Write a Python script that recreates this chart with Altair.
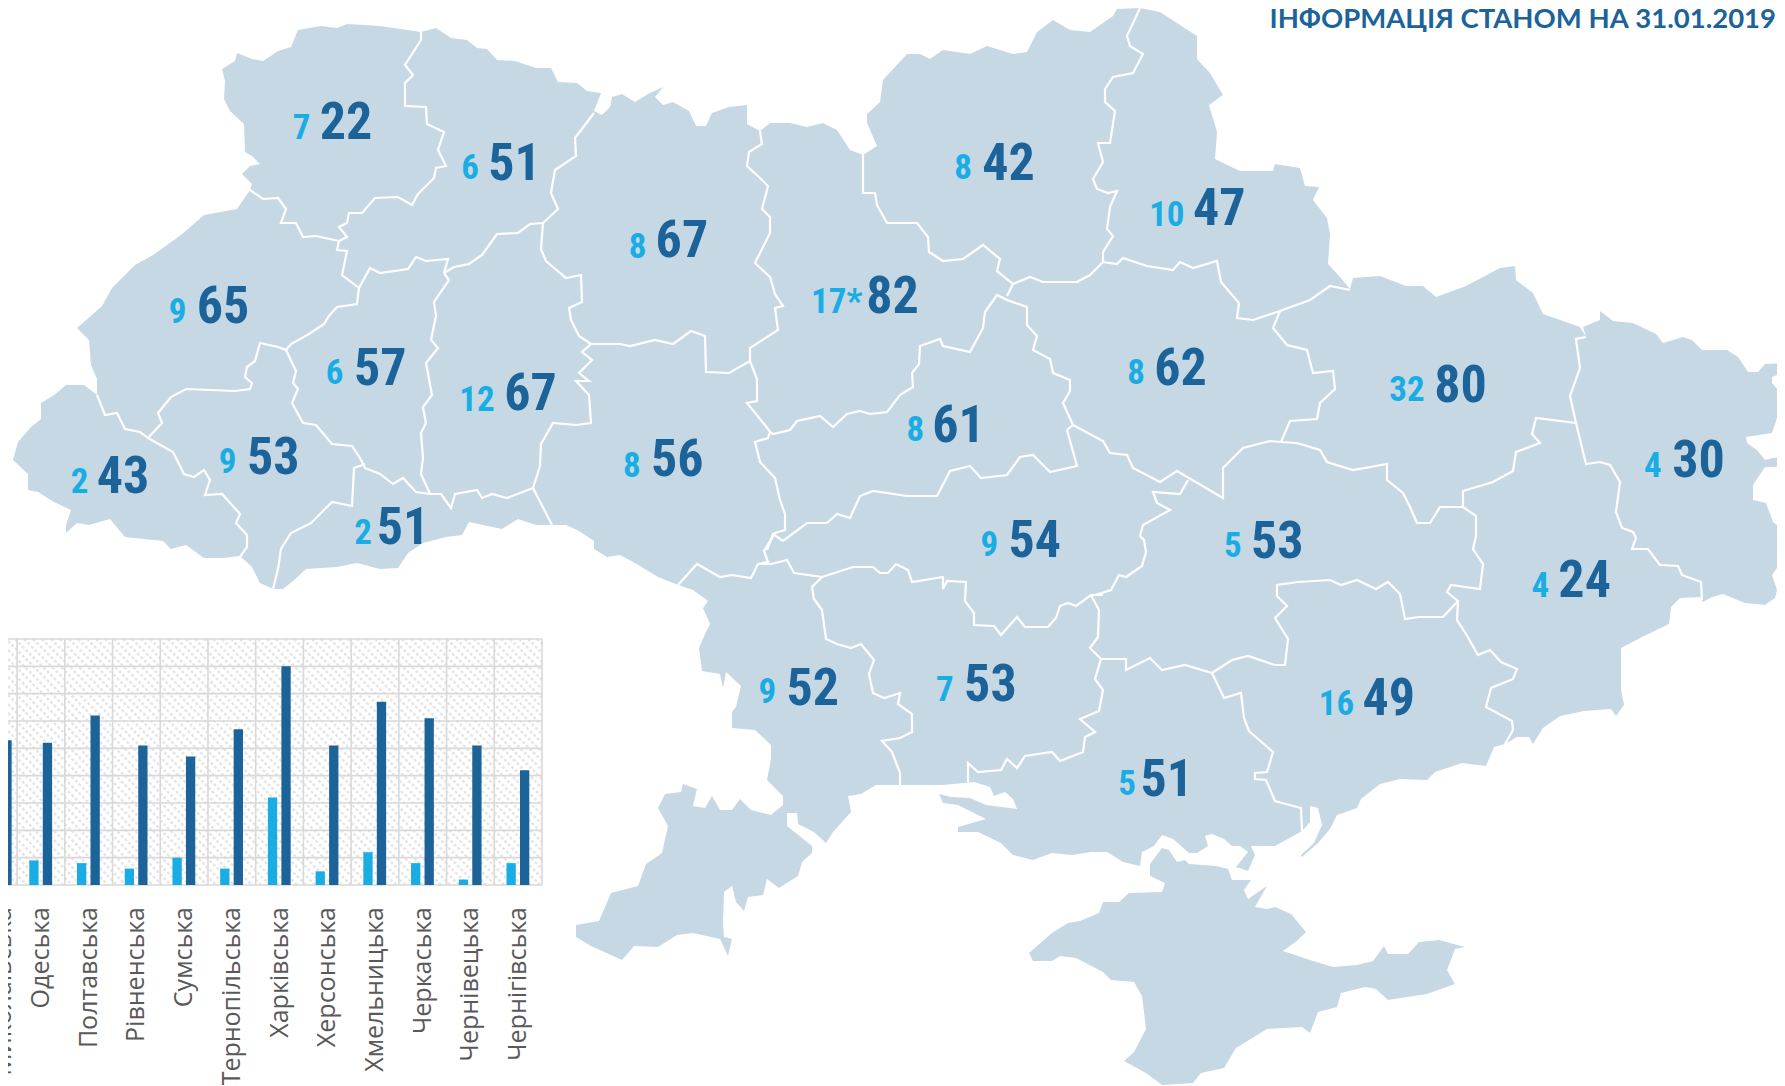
import altair as alt

TITLE = "ІНФОРМАЦІЯ СТАНОМ НА 31.01.2019"
FILL, DARK, LIGHT = "#C7D8E5", "#1B6399", "#1AADE3"
GRID, AXIS_TEXT = "#D9D9D9", "#595959"

# --- map geometry (page pixels) ---
mainland = [
(421,32),(436,28),(451,38),(467,40),(477,48),(487,49),(497,60),(515,61),(536,68),(551,68),(558,82),(577,83),(587,91),(601,93),(594,111),(602,115),(610,107),(612,97),(622,94),(635,102),(648,94),(663,87),(655,97),(663,105),(673,102),(689,111),(696,126),(706,126),(712,113),(729,107),(747,105),(747,124),(760,131),
(770,123),(790,123),(807,127),(823,123),(837,130),(850,150),(863,155),(877,146),(867,123),(867,114),(880,102),(883,80),(907,54),(920,54),(930,59),(943,50),(970,54),(987,46),(1013,54),(1027,52),(1037,32),(1053,20),(1070,30),(1090,32),(1113,16),(1117,9),(1140,8),(1160,12),(1180,25),(1197,36),(1197,59),(1210,73),(1223,95),(1209,105),(1217,132),(1215,159),(1240,171),(1273,171),(1275,164),(1300,168),(1305,186),(1319,187),(1313,200),(1327,218),(1330,234),(1328,264),(1340,277),(1350,289),(1353,278),(1380,276),(1406,286),(1423,286),(1436,297),(1466,286),(1500,268),(1515,266),(1516,280),(1533,293),(1543,314),(1580,327),(1586,337),(1583,327),(1600,320),(1600,311),(1613,321),(1633,323),(1656,334),(1663,343),(1683,337),(1692,340),(1702,350),(1727,350),(1738,357),(1748,372),(1758,372),(1765,364),(1785,363),
(1785,372),(1772,377),(1772,383),(1785,398),(1785,412),(1777,418),(1772,433),(1746,437),(1747,443),(1757,450),(1765,460),(1773,458),(1782,457),(1782,465),(1775,467),(1765,467),(1753,485),(1753,500),(1766,503),(1773,522),(1785,532),(1785,557),(1772,575),(1777,590),(1775,598),(1765,605),(1745,603),(1723,594),(1712,597),(1703,602),(1700,597),(1680,598),(1671,607),(1669,624),
(1642,637),(1621,648),(1621,690),(1624,705),(1616,716),(1611,709),(1584,711),(1560,716),(1543,728),(1533,744),(1529,737),(1517,737),(1505,744),(1494,747),(1486,766),(1462,763),(1435,772),(1427,780),(1400,779),(1380,784),(1361,799),(1357,808),(1337,815),(1330,829),(1318,843),(1302,857),(1301,855),(1314,843),(1322,825),(1318,808),(1310,806),(1310,822),(1302,831),(1275,846),(1255,846),(1251,846),(1255,855),(1248,871),(1236,867),(1248,852),(1240,846),(1232,846),(1224,839),(1212,834),(1205,836),(1208,846),(1197,853),(1189,853),(1173,839),(1162,835),(1154,846),(1142,852),(1140,866),(1123,862),(1107,852),(1091,852),(1072,855),(1052,853),(1033,860),(1013,855),(1001,843),(978,832),(958,832),(958,827),(986,819),(958,805),(943,803),(939,794),(951,797),(970,798),(986,805),(1017,809),(1013,799),(1005,792),(994,796),(990,787),(974,782),(943,785),(923,785),(900,785),(876,785),(861,794),(848,796),(851,812),(833,832),(826,843),(814,832),(798,824),(797,813),(787,813),(787,826),(812,846),(812,853),(802,862),(798,876),(779,888),(767,879),(763,895),(748,897),(744,911),(736,902),(732,886),(724,892),(723,923),(724,937),(732,939),(728,956),(720,939),(693,933),(677,935),(658,947),(634,946),(622,960),(591,946),(576,937),(576,925),(599,921),(611,893),(638,886),(646,864),(662,853),(668,826),(658,808),(665,794),(681,792),(683,784),(697,789),(693,806),(705,808),(712,796),(720,810),(732,810),(740,799),(751,810),(771,815),(783,805),(783,796),(767,780),(771,759),(771,745),(755,730),(732,728),(732,712),(736,707),(741,686),(726,672),(723,688),(720,674),(702,671),(699,648),(705,634),(710,624),(703,608),(708,601),(693,590),
(678,585),(658,577),(635,563),(620,555),(607,557),(594,549),(594,541),(579,531),(566,525),(551,525),(536,525),(518,519),(502,529),(469,522),(462,535),(446,537),(423,543),(408,553),(398,568),(380,569),(357,563),(337,567),(306,569),(293,581),(283,589),(273,589),(260,583),(252,567),(240,556),(224,558),(204,558),(186,545),(171,549),(163,541),(125,537),(110,519),(89,525),(77,523),(66,533),(66,525),(71,510),(54,502),(38,492),(28,490),(28,474),(13,460),(18,442),(31,427),(41,419),(41,403),(54,395),(66,385),(84,385),(97,395),(97,379),(91,365),(89,340),(77,328),(102,306),(112,288),(135,265),(153,255),(181,235),(204,215),(237,209),(250,190),(252,184),(242,174),(250,166),(260,164),(252,156),(245,152),(244,124),(230,111),(224,99),(225,81),(222,69),(235,61),(237,53),(252,59),(263,61),(278,51),(291,47),(298,30),(321,26),(337,28),(347,24),(380,26),(421,32),
]
crimea = [
(1162,848),(1150,864),(1150,876),(1165,883),(1162,892),(1129,893),(1119,902),(1103,902),(1099,913),(1080,921),(1068,923),(1052,933),(1029,953),(1033,961),(1052,961),(1060,956),(1076,958),(1103,972),(1111,980),(1134,982),(1142,996),(1146,1029),(1134,1052),(1124,1061),(1146,1073),(1162,1085),(1193,1083),(1201,1073),(1224,1068),(1236,1048),(1267,1029),(1302,1027),(1310,1033),(1318,1012),(1337,1007),(1341,993),(1365,987),(1376,989),(1388,1000),(1427,994),(1455,984),(1447,970),(1455,949),(1465,947),(1439,940),(1419,942),(1408,954),(1388,954),(1384,946),(1373,961),(1357,965),(1333,967),(1310,960),(1283,951),(1298,940),(1306,932),(1291,914),(1275,907),(1267,909),(1255,907),(1267,886),(1248,899),(1244,890),(1251,880),(1232,880),(1228,869),(1216,866),(1189,864),(1185,860),(1177,862),(1169,850),(1162,848),
]
borders = [
[(421,32),(421,40),(405,65),(413,75),(405,83),(405,106),(426,107),(427,124),(444,132),(438,150),(446,166),(436,168),(434,178),(418,194),(412,205),(398,197),(375,198),(362,213),(349,213),(347,223),(339,227),(347,237),(339,241)],
[(250,190),(263,199),(278,198),(286,209),(281,223),(296,223),(303,237),(316,236),(339,241)],
[(339,241),(337,250),(347,251),(342,275),(359,288),(357,304),(337,307),(329,316),(324,324),(309,334),(291,344),(286,350)],
[(359,288),(370,268),(380,273),(408,269),(416,257),(426,261),(448,259),(444,273)],
[(444,273),(454,267),(469,264),(482,255),(497,234),(518,233),(530,224),(543,223),(558,209),(551,193),(555,170),(576,156),(575,138),(594,113)],
[(543,223),(541,249),(546,261),(566,278),(581,275),(582,302),(569,308),(571,320),(579,336),(591,344)],
[(591,344),(620,344),(630,346),(655,340),(673,344),(691,331),(705,336),(706,372),(729,373),(750,361),(750,348),(778,330),(775,308),(783,306),(775,294),(770,277),(755,263),(770,233),(770,217),(762,209),(768,186),(760,178),(747,166),(749,152),(762,144),(760,131)],
[(444,273),(449,280),(434,302),(436,316),(431,340),(438,348),(426,363),(432,395),(423,407),(426,423),(421,433),(423,458),(421,474),(430,494)],
[(286,350),(296,371),(293,383),(298,389),(292,403),(303,423),(316,425),(332,444),(352,446),(360,458),(365,468),(380,474),(393,484),(403,478),(416,492),(430,494),(441,494),(451,508),(455,494),(477,490),(482,498),(492,494),(507,498),(533,488)],
[(365,464),(354,468),(352,506),(332,502),(311,523),(291,533),(281,549),(278,569),(273,589)],
[(286,350),(278,347),(260,343),(255,361),(247,367),(245,377),(252,383),(250,389),(235,391),(186,389),(171,397),(158,413),(162,423),(148,438)],
[(97,395),(105,415),(117,413),(125,429),(140,432),(148,438),(173,452),(184,474),(194,477),(204,470),(210,480),(205,495),(222,494),(240,514),(236,523),(247,535),(247,547),(240,557)],
[(533,488),(552,525)],
[(591,344),(582,352),(592,360),(579,373),(589,381),(576,381),(589,395),(591,423),(576,425),(553,423),(541,444),(540,466),(533,488)],
[(750,361),(757,379),(757,401),(747,403),(768,429),(770,432),(768,438),(755,442),(760,462),(775,478),(780,500),(785,514),(785,530),(775,533),(764,551),(768,562),(758,564),(751,578),(732,575),(720,577),(697,564),(678,585)],
[(767,550),(773,534),(783,541),(807,523),(827,523),(837,514),(850,518),(860,496),(873,491),(907,496),(937,496),(950,471),(970,466),(981,478),(1007,475),(1020,457),(1033,455),(1050,472),(1077,466),(1067,430)],
[(770,432),(773,434),(790,430),(797,421),(820,416),(833,427),(847,414),(860,411),(870,414),(887,412),(900,395),(913,387),(912,373),(919,364),(920,346),(940,339),(943,346),(970,352),(983,328),(985,312),(997,295),(1007,300),(1027,307),(1027,325),(1037,336),(1033,350),(1050,359),(1053,373),(1070,380),(1070,391),(1063,403),(1073,425),(1067,430)],
[(863,155),(863,193),(875,193),(877,205),(887,223),(917,223),(928,237),(929,252),(943,261),(963,259),(983,245),(1000,259),(997,271),(1013,284),(1007,296)],
[(1013,284),(1030,277),(1043,282),(1077,282),(1090,275),(1103,262)],
[(1140,8),(1127,36),(1130,46),(1143,54),(1133,73),(1113,77),(1105,89),(1105,102),(1115,111),(1110,143),(1098,143),(1103,162),(1093,179),(1097,189),(1108,193),(1117,191),(1110,207),(1107,229),(1113,236),(1103,252),(1103,262)],
[(1103,262),(1117,264),(1123,258),(1147,266),(1173,270),(1180,262),(1193,268),(1217,261),(1221,282),(1239,303),(1237,318),(1253,320),(1280,311),(1310,300),(1330,286),(1350,290)],
[(1280,311),(1273,328),(1287,345),(1307,350),(1313,373),(1333,371),(1335,389),(1320,403),(1317,419),(1290,421),(1281,442)],
[(1073,425),(1103,441),(1110,453),(1127,455),(1133,468),(1160,482),(1177,471),(1223,498),(1223,468),(1243,448),(1270,441),(1281,442)],
[(1188,480),(1180,494),(1153,492),(1157,503),(1170,510),(1143,525),(1140,536),(1144,540),(1146,552),(1142,566),(1126,577),(1119,575),(1111,590),(1095,595)],
[(822,577),(853,567),(873,567),(880,573),(888,573),(896,564),(908,570),(912,582),(943,577),(943,589),(947,581),(966,582),(965,601),(974,613),(974,625),(994,626),(1001,635),(1017,617),(1025,627),(1048,627),(1056,618),(1060,606),(1068,603),(1076,606),(1091,595),(1103,595)],
[(758,564),(771,564),(787,560),(794,573),(822,577),(812,587),(814,599),(822,610),(826,639),(837,644),(851,648),(861,644),(874,660),(869,674),(873,693),(884,698),(900,693),(898,704),(912,714),(912,732),(900,738),(882,741),(892,752),(900,773),(900,785)],
[(1091,595),(1099,610),(1098,637),(1090,648),(1101,659),(1095,679),(1103,690),(1099,711),(1080,719),(1095,732),(1085,737),(1083,752),(1060,761),(1052,752),(1025,756),(1017,768),(1007,759),(1001,770),(978,772),(968,763),(968,782)],
[(1101,659),(1126,659),(1126,670),(1150,658),(1162,670),(1185,665),(1212,673),(1232,660),(1248,656),(1275,665),(1285,665),(1288,639),(1275,618),(1287,606),(1277,596),(1277,585),(1298,582),(1330,580),(1341,585),(1357,580),(1376,589),(1388,582),(1400,594),(1405,619),(1419,617),(1443,617),(1458,601),(1447,592),(1451,585),(1480,589),(1483,564),(1473,549),(1476,536),(1476,516),(1463,507)],
[(1281,442),(1297,443),(1320,450),(1327,462),(1353,470),(1387,464),(1387,480),(1403,493),(1410,507),(1417,523),(1430,523),(1440,507),(1463,507),(1463,491),(1493,482),(1513,471),(1516,452),(1540,443),(1532,434),(1536,418),(1576,423)],
[(1586,337),(1576,339),(1580,368),(1570,396),(1576,423),(1586,464),(1600,462),(1610,465),(1620,482),(1616,512),(1622,528),(1633,532),(1636,538),(1632,549),(1648,549),(1660,565),(1678,566),(1682,575),(1701,582),(1702,600)],
[(1458,601),(1457,620),(1466,634),(1478,655),(1490,650),(1501,662),(1517,669),(1513,679),(1491,688),(1486,707),(1512,721),(1513,730),(1505,744)],
[(1212,673),(1224,698),(1241,693),(1244,718),(1249,731),(1273,752),(1267,772),(1255,773),(1255,779),(1266,780),(1275,801),(1301,808),(1302,831)],
]

# --- per-oblast figures and where they sit on the map ---
oblasts = ["Вінницька","Волинська","Дніпропетровська","Донецька","Житомирська","Закарпатська","Запорізька",
           "Івано-Франківська","Київська","Кіровоградська","Луганська","Львівська","Миколаївська","Одеська",
           "Полтавська","Рівненська","Сумська","Тернопільська","Харківська","Херсонська","Хмельницька",
           "Черкаська","Чернівецька","Чернігівська"]
light_vals = [8,7,5,4,8,2,16,9,17,9,4,9,7,9,8,6,10,6,32,5,12,8,2,8]
dark_vals = [56,22,53,24,67,43,49,53,82,54,30,65,53,52,62,51,47,57,80,51,67,61,51,42]
light_text = ["8","7","5","4","8","2","16","9","17*","9","4","9","7","9","8","6","10","6","32","5","12","8","2","8"]
light_x = [555,265,1083,1353,560,70,1174,200,735,869,1452,156,830,674,998,413,1025,294,1236,990,419,804,319,846]
light_y = [407,110,478,513,215,421,616,404,263,477,407,272,604,606,326,146,187,326,341,687,349,376,466,146]
dark_x = [595,304,1122,1392,599,108,1220,240,784,909,1492,196,870,714,1037,452,1071,334,1283,1025,466,842,354,886]
dark_y = [402,106,474,508,210,417,612,400,259,473,403,268,600,603,322,142,182,322,337,683,344,372,462,142]

map_rows = [dict(o=o, lt=lt, dt=str(d), lx=lx, ly=ly, dx=dx, dy=dy)
            for o, lt, d, lx, ly, dx, dy in zip(oblasts, light_text, dark_vals, light_x, light_y, dark_x, dark_y)]
# the bar panel runs off the left of the page: the reference shows only its last bands
FIRST_SHOWN = oblasts.index("Одеська")
bar_rows = [dict(o=o, light=l, dark=d) for o, l, d in zip(oblasts, light_vals, dark_vals)][FIRST_SHOWN:]
cut_row = [dict(o="Миколаївська", light=light_vals[12], dark=dark_vals[12])]

PAGE_W, PAGE_H = 1769, 1078
X_PX = alt.Scale(domain=[7.03, 7.03 + 1769 / 1.1384], range=[0, PAGE_W])
Y_PX = alt.Scale(domain=[7.03, 954], range=[0, PAGE_H])

def poly(ring):
    return {"type": "Feature", "properties": {}, "geometry": {"type": "Polygon", "coordinates": [[list(p) for p in ring]]}}

def line(path):
    return {"type": "Feature", "properties": {}, "geometry": {"type": "LineString", "coordinates": [list(p) for p in path]}}

IDENT = dict(type="identity", scale=1, translate=[-8, -8])
land = alt.Chart(alt.Data(values=[poly(mainland), poly(crimea)])).mark_geoshape(fill=FILL, stroke=None).project(**IDENT)
lines = alt.Chart(alt.Data(values=[line(b) for b in borders])).mark_geoshape(filled=False, stroke="white", strokeWidth=2.2).project(**IDENT)

# --- bar panel ---
PLOT_R, STEP = 542 - 8, 47.72
cats = [r["o"] for r in bar_rows]
BAND = alt.Scale(domain=cats, range=[PLOT_R - STEP * len(cats), PLOT_R], paddingInner=0, paddingOuter=0)
VAL = alt.Scale(domain=[0, 90], range=[885 - 8, 639 - 8])
base = alt.Chart(alt.Data(values=bar_rows))
x_c = alt.X("o:N", scale=BAND, axis=None, sort=None)
x_b = alt.X("o:N", scale=BAND, axis=None, sort=None, bandPosition=0)

# hatch in page pixels (pattern only, not data)
hatch = []
for c in range(-246, 542, 9):
    x0, x1 = max(8, c), min(542, c + 246)
    hatch.append(dict(a=x0, b=x1, c=639 + (x0 - c), d=639 + (x1 - c)))
HX = alt.Scale(domain=[8, 1777], range=[0, PAGE_W])
HY = alt.Scale(domain=[8, 1086], range=[0, PAGE_H])
hatch_layer = alt.Chart(alt.Data(values=hatch)).mark_rule(color="#E6E6E6", strokeWidth=2.5, strokeDash=[3, 2]).encode(
    x=alt.X("a:Q", scale=HX, axis=None), x2="b:Q",
    y=alt.Y("c:Q", scale=HY, axis=None), y2="d:Q")

LEFT, RIGHT = alt.value(0), alt.value(PLOT_R)
h_grid = alt.Chart(alt.Data(values=[{"v": v} for v in range(0, 100, 10)])).mark_rule(color=GRID, strokeWidth=1.6).encode(
    y=alt.Y("v:Q", scale=VAL, axis=None), x=LEFT, x2=RIGHT)
v_grid = base.mark_rule(color=GRID, strokeWidth=1.6).encode(x=x_b, y=alt.value(639 - 8), y2=alt.value(885 - 8))
right_edge = alt.Chart(alt.Data(values=[{"v": 1}])).mark_rule(color=GRID, strokeWidth=1.6).encode(
    x=alt.value(PLOT_R), y=alt.value(639 - 8), y2=alt.value(885 - 8))
y_v = lambda f: alt.Y(f + ":Q", scale=VAL, axis=None)
bars_l = base.mark_bar(width=9.3, color=LIGHT, xOffset=-7).encode(x=x_c, y=y_v("light"))
bars_d = base.mark_bar(width=9.3, color=DARK, xOffset=6.5).encode(x=x_c, y=y_v("dark"))
LABEL = dict(angle=270, align="right", baseline="middle", font="Open Sans", fontSize=25, color=AXIS_TEXT)
cat_text = base.mark_text(**LABEL).encode(x=x_c, y=alt.value(907 - 8), text="o:N")
# the cut-off band at the page edge: only its right sliver shows
cut = alt.Chart(alt.Data(values=cut_row))
CUT_BAND = alt.Scale(domain=["Миколаївська"], range=[-23, 13], paddingInner=0, paddingOuter=0)
cut_bar = cut.mark_bar(width=9.3, color=DARK, xOffset=4).encode(x=alt.X("o:N", scale=CUT_BAND, axis=None), y=y_v("dark"))
cut_text = cut.mark_text(**LABEL).encode(x=alt.X("o:N", scale=CUT_BAND, axis=None), y=alt.value(907 - 8), text="o:N")

# --- map labels ---
m = alt.Chart(alt.Data(values=map_rows))
NARROW = "Roboto Condensed, Noto Sans Condensed, Liberation Sans"
t_light = m.mark_text(font=NARROW, fontWeight="bold", fontSize=35, dy=2.3, color=LIGHT, align="center", baseline="middle").encode(
    x=alt.X("lx:Q", scale=X_PX, axis=None), y=alt.Y("ly:Q", scale=Y_PX, axis=None), text="lt:N")
t_dark = m.mark_text(font=NARROW, fontWeight="bold", fontSize=52, dy=2.3, color=DARK, align="center", baseline="middle").encode(
    x=alt.X("dx:Q", scale=X_PX, axis=None), y=alt.Y("dy:Q", scale=Y_PX, axis=None), text="dt:N")
title = alt.Chart(alt.Data(values=[{"t": TITLE}])).mark_text(
    font="Lato", fontWeight="bold", fontSize=27.5, color=DARK, align="right", baseline="middle").encode(
    x=alt.value(1768), y=alt.value(12), text="t:N")

chart = alt.layer(land, lines, hatch_layer, h_grid, v_grid, right_edge, cut_bar, bars_l, bars_d, cut_text, cat_text, t_light, t_dark, title).resolve_scale(
    x="independent", y="independent"
).properties(width=PAGE_W, height=PAGE_H, padding=0, autosize=alt.AutoSizeParams(type="none")
).configure_view(stroke=None)

chart.save("out.html", embed_options={"renderer": "svg", "actions": False})
